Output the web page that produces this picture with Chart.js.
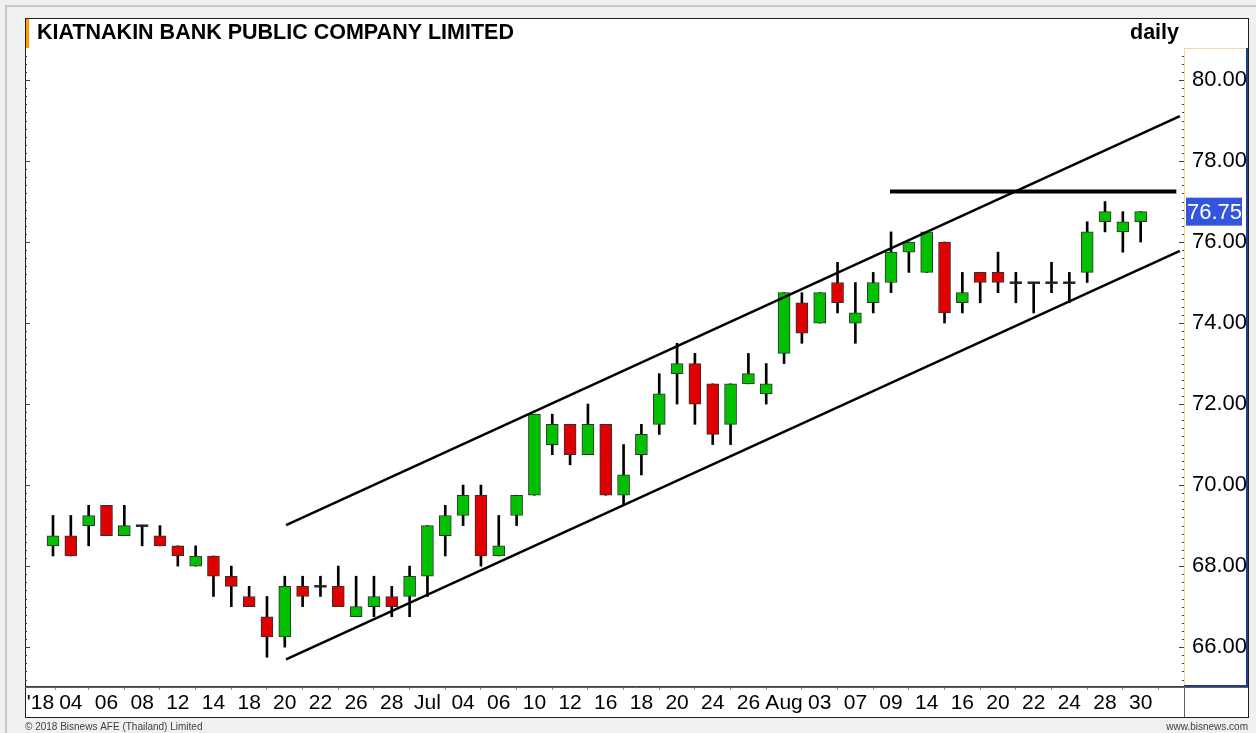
<!DOCTYPE html>
<html>
<head>
<meta charset="utf-8">
<script src="https://cdn.jsdelivr.net/npm/chart.js@4.4.1/dist/chart.umd.min.js"></script>
<style>
  html, body { margin: 0; padding: 0; background: #f0f0f0; }
  canvas { display: block; }
</style>
</head>
<body>
<canvas id="myChart" width="1256" height="733"></canvas>
<script>
// daily candles, Jun 01 - Aug 30 2018
const days = [
  "Jun 01", "Jun 04", "Jun 05", "Jun 06", "Jun 07", "Jun 08", "Jun 11", "Jun 12", "Jun 13", "Jun 14",
  "Jun 15", "Jun 18", "Jun 19", "Jun 20", "Jun 21", "Jun 22", "Jun 25", "Jun 26", "Jun 27", "Jun 28",
  "Jun 29", "Jul 02", "Jul 03", "Jul 04", "Jul 05", "Jul 06", "Jul 09", "Jul 10", "Jul 11", "Jul 12",
  "Jul 13", "Jul 16", "Jul 17", "Jul 18", "Jul 19", "Jul 20", "Jul 23", "Jul 24", "Jul 25", "Jul 26",
  "Jul 31", "Aug 01", "Aug 02", "Aug 03", "Aug 06", "Aug 07", "Aug 08", "Aug 09", "Aug 10", "Aug 14",
  "Aug 15", "Aug 16", "Aug 17", "Aug 20", "Aug 21", "Aug 22", "Aug 23", "Aug 24", "Aug 27", "Aug 28",
  "Aug 29", "Aug 30"
];
const opens = [
  68.5, 68.75, 69.0, 69.5, 68.75, 69.0, 68.75, 68.5, 68.0, 68.25,
  67.75, 67.25, 66.75, 66.25, 67.5, 67.5, 67.5, 66.75, 67.0, 67.25,
  67.25, 67.75, 68.75, 69.25, 69.75, 68.25, 69.25, 69.75, 71.0, 71.5,
  70.75, 71.5, 69.75, 70.75, 71.5, 72.75, 73.0, 72.5, 71.5, 72.5,
  72.25, 73.25, 74.5, 74.0, 75.0, 74.0, 74.5, 75.0, 75.75, 75.25,
  76.0, 74.5, 75.25, 75.25, 75.0, 75.0, 75.0, 75.0, 75.25, 76.5,
  76.25, 76.5
];
const highs = [
  69.25, 69.25, 69.5, 69.5, 69.5, 69.0, 69.0, 68.5, 68.5, 68.25,
  68.0, 67.5, 67.25, 67.75, 67.75, 67.75, 68.0, 67.75, 67.75, 67.5,
  68.0, 69.0, 69.5, 70.0, 70.0, 69.25, 69.75, 71.75, 71.75, 71.5,
  72.0, 71.5, 71.0, 71.5, 72.75, 73.5, 73.25, 72.5, 72.5, 73.25,
  73.0, 74.75, 74.75, 74.75, 75.5, 75.0, 75.25, 76.25, 76.0, 76.25,
  76.0, 75.25, 75.25, 75.75, 75.25, 75.0, 75.5, 75.25, 76.5, 77.0,
  76.75, 76.75
];
const lows = [
  68.25, 68.25, 68.5, 68.75, 68.75, 68.5, 68.5, 68.0, 68.0, 67.25,
  67.0, 67.0, 65.75, 66.0, 67.0, 67.25, 67.0, 66.75, 66.75, 66.75,
  66.75, 67.25, 68.25, 69.0, 68.0, 68.25, 69.0, 69.75, 70.75, 70.5,
  70.75, 69.75, 69.5, 70.25, 71.25, 72.0, 71.5, 71.0, 71.0, 72.5,
  72.0, 73.0, 73.5, 74.0, 74.25, 73.5, 74.25, 74.75, 75.25, 75.25,
  74.0, 74.25, 74.5, 74.75, 74.5, 74.25, 74.75, 74.5, 75.0, 76.25,
  75.75, 76.0
];
const closes = [
  68.75, 68.25, 69.25, 68.75, 69.0, 69.0, 68.5, 68.25, 68.25, 67.75,
  67.5, 67.0, 66.25, 67.5, 67.25, 67.5, 67.0, 67.0, 67.25, 67.0,
  67.75, 69.0, 69.25, 69.75, 68.25, 68.5, 69.75, 71.75, 71.5, 70.75,
  71.5, 69.75, 70.25, 71.25, 72.25, 73.0, 72.0, 71.25, 72.5, 72.75,
  72.5, 74.75, 73.75, 74.75, 74.5, 74.25, 75.0, 75.75, 76.0, 76.25,
  74.25, 74.75, 75.0, 75.0, 75.0, 75.0, 75.0, 75.0, 76.25, 76.75,
  76.5, 76.75
];

// drawn lines: [candle index, price]
const upperChannel = [[13.07, 69.01], [63.2, 79.11]];
const lowerChannel = [[13.07, 65.7], [63.2, 75.78]];
const resistance = [[46.94, 77.25], [63.0, 77.25]];

// x axis labels (every second session) + year tag at the left edge
const tickIndex = [-0.7, 1, 3, 5, 7, 9, 11, 13, 15, 17, 19, 21, 23, 25, 27, 29, 31,
  33, 35, 37, 39, 41, 43, 45, 47, 49, 51, 53, 55, 57, 59, 61];
const tickLabels = ["'18", "04", "06", "08", "12", "14", "18", "20", "22", "26", "28", "Jul",
  "04", "06", "10", "12", "16", "18", "20", "24", "26", "Aug", "03", "07", "09", "14", "16",
  "20", "22", "24", "28", "30"];
const yTicks = [66, 68, 70, 72, 74, 76, 78, 80];

const UP = "#00c000";
const DOWN = "#e00000";
const FONT = "Arial, 'Liberation Sans', sans-serif";

const bodies = days.map((d, i) => {
  const o = opens[i], c = closes[i];
  if (o === c) return { x: i, y: [o - 0.025, o + 0.025] };
  return { x: i, y: [o, c] };
});
const bodyColors = days.map((d, i) =>
  closes[i] > opens[i] ? UP : closes[i] < opens[i] ? DOWN : "#000000");
const wicks = days.map((d, i) => ({ x: i, y: [lows[i], highs[i]] }));
const toPts = arr => arr.map(p => ({ x: p[0], y: p[1] }));

// frame, title, footer, price tag, minor ticks
const framePlugin = {
  id: "frame",
  beforeDraw(chart) {
    const ctx = chart.ctx;
    ctx.save();
    ctx.fillStyle = "#f0f0f0";
    ctx.fillRect(0, 0, chart.width, chart.height);
    ctx.fillStyle = "#ffffff";
    ctx.fillRect(25, 18, 1223, 699);
    ctx.strokeStyle = "#c8c8c8";
    ctx.lineWidth = 2;
    ctx.beginPath();
    ctx.moveTo(6, 733); ctx.lineTo(6, 6); ctx.lineTo(1256, 6);
    ctx.stroke();
    ctx.restore();
  },
  afterDraw(chart) {
    const ctx = chart.ctx;
    const a = chart.chartArea;
    const y = chart.scales.y;
    ctx.save();
    // outer frame
    ctx.strokeStyle = "#202020";
    ctx.lineWidth = 1;
    ctx.strokeRect(25.5, 18.5, 1223, 699);
    // title bar
    ctx.fillStyle = "#ff9900";
    ctx.fillRect(26, 19, 3, 29);
    ctx.fillStyle = "#000000";
    ctx.font = "bold 21.5px " + FONT;
    ctx.textBaseline = "middle";
    ctx.textAlign = "left";
    ctx.fillText("KIATNAKIN BANK PUBLIC COMPANY LIMITED", 37, 33);
    ctx.textAlign = "right";
    ctx.fillText("daily", 1179, 33);
    // y axis box
    ctx.strokeStyle = "#f0dc90";
    ctx.beginPath();
    ctx.moveTo(a.right + 0.5, a.top); ctx.lineTo(a.right + 0.5, a.bottom);
    ctx.moveTo(a.right, a.top + 0.5); ctx.lineTo(1248, a.top + 0.5);
    ctx.stroke();
    ctx.strokeStyle = "#203c8c";
    ctx.lineWidth = 2;
    ctx.beginPath();
    ctx.moveTo(1247, a.top); ctx.lineTo(1247, a.bottom); ctx.lineTo(a.right, a.bottom);
    ctx.stroke();
    // x axis box
    ctx.strokeStyle = "#606060";
    ctx.lineWidth = 1;
    ctx.beginPath();
    ctx.moveTo(25, a.bottom + 1.5); ctx.lineTo(1248, a.bottom + 1.5);
    ctx.moveTo(a.right + 0.5, a.bottom); ctx.lineTo(a.right + 0.5, 717);
    ctx.stroke();
    // minor ticks on both vertical edges
    ctx.strokeStyle = "#404040";
    for (let v = 65.2; v < 80.8; v += 0.2) {
      const py = Math.round(y.getPixelForValue(v)) + 0.5;
      const major = Math.abs(v / 2 - Math.round(v / 2)) < 0.01;
      const len = major ? 5 : 2;
      ctx.beginPath();
      ctx.moveTo(a.right, py); ctx.lineTo(a.right - len, py);
      ctx.moveTo(a.left, py); ctx.lineTo(a.left + len, py);
      ctx.stroke();
    }
    // last price tag
    const last = closes[closes.length - 1];
    const py = y.getPixelForValue(last);
    ctx.fillStyle = "#3355dd";
    ctx.fillRect(a.right + 2, py - 14, 56, 28);
    ctx.fillStyle = "#ffffff";
    ctx.font = "22px " + FONT;
    ctx.textAlign = "left";
    ctx.fillText(last.toFixed(2), a.right + 3, py + 1);
    // footer
    ctx.fillStyle = "#404040";
    ctx.font = "10px " + FONT;
    ctx.textAlign = "left";
    ctx.fillText("\u00a9 2018 Bisnews AFE (Thailand) Limited", 25, 727);
    ctx.textAlign = "right";
    ctx.fillText("www.bisnews.com", 1248, 727);
    ctx.restore();
  }
};

const config = {
  type: "bar",
  data: {
    datasets: [
      {
        type: "line",
        data: toPts(upperChannel),
        borderColor: "#000000",
        borderWidth: 2.5,
        pointRadius: 0,
        order: 0
      },
      {
        type: "line",
        data: toPts(lowerChannel),
        borderColor: "#000000",
        borderWidth: 2.5,
        pointRadius: 0,
        order: 0
      },
      {
        type: "line",
        data: toPts(resistance),
        borderColor: "#000000",
        borderWidth: 4,
        pointRadius: 0,
        order: 0
      },
      {
        label: "body",
        data: bodies,
        backgroundColor: bodyColors,
        borderColor: "#303030",
        borderWidth: 1,
        borderSkipped: false,
        barThickness: 12,
        grouped: false,
        order: 1
      },
      {
        label: "wick",
        data: wicks,
        backgroundColor: "#000000",
        borderWidth: 0,
        barThickness: 2,
        grouped: false,
        order: 2
      }
    ]
  },
  options: {
    responsive: false,
    animation: false,
    layout: { padding: { left: 25, top: 48, right: 8, bottom: 16 } },
    plugins: {
      legend: { display: false },
      tooltip: { enabled: false }
    },
    scales: {
      x: {
        type: "linear",
        offset: false,
        min: -1.57,
        max: 63.43,
        afterBuildTicks: s => { s.ticks = tickIndex.map(v => ({ value: v })); },
        afterFit: s => { s.height = 31; },
        grid: {
          drawOnChartArea: false,
          tickLength: 4,
          color: ctx => (ctx.tick && ctx.tick.value < 0 ? "rgba(0,0,0,0)" : "#909090")
        },
        border: { display: true, color: "#404040" },
        ticks: {
          autoSkip: false,
          maxRotation: 0,
          padding: 1,
          color: "#000000",
          font: { family: FONT, size: 21 },
          callback: (v, i) => tickLabels[i]
        }
      },
      y: {
        position: "right",
        min: 65.04,
        max: 80.79,
        afterBuildTicks: s => { s.ticks = yTicks.map(v => ({ value: v })); },
        afterFit: s => { s.width = 64; },
        grid: { display: false },
        border: { display: false },
        ticks: {
          padding: 0,
          color: "#000000",
          font: { family: FONT, size: 22 },
          callback: v => v.toFixed(2)
        }
      }
    }
  },
  plugins: [framePlugin]
};

const myChart = new Chart(document.getElementById("myChart"), config);
</script>
</body>
</html>
